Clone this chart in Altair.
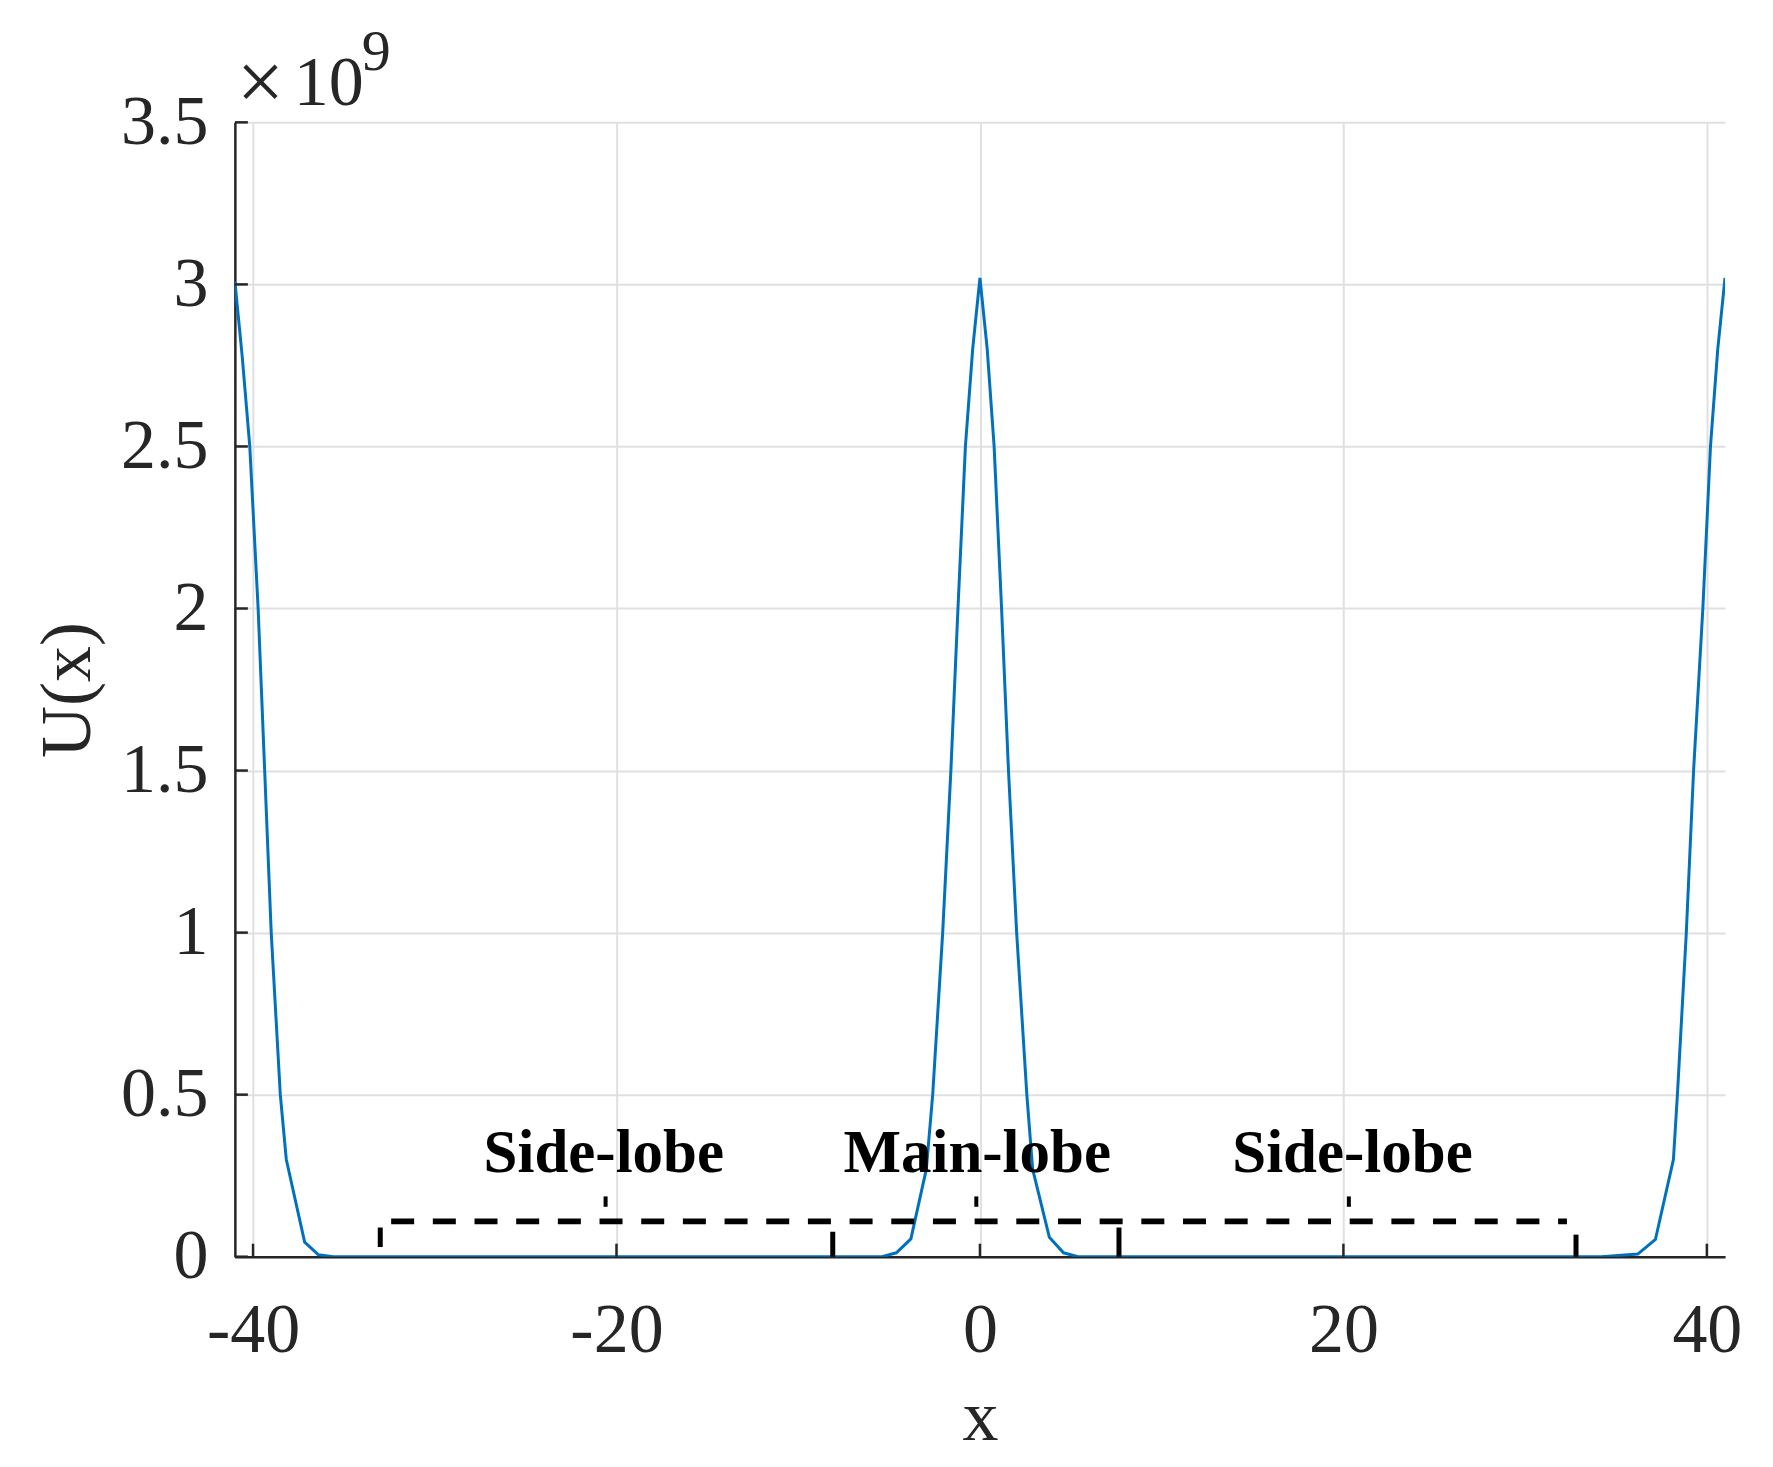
import altair as alt
import pandas as pd

# ---- data (U in units of 1e9) ----
lobe_left_x = [-41.0, -40.6, -40.18, -39.72, -39.36, -39.0, -38.5, -38.17, -37.16, -36.4, -35.6]
lobe_left_u = [3.01, 2.78, 2.5, 2.0, 1.5, 1.0, 0.5, 0.30, 0.045, 0.006, 0.0]
lobe_main_x = [-5.4, -4.6, -3.8, -2.95, -2.6, -2.05, -1.6, -1.21, -0.8, -0.4, 0.0,
               0.4, 0.78, 1.19, 1.57, 2.02, 2.58, 2.9, 3.82, 4.6, 5.4]
lobe_main_u = [0.0, 0.012, 0.055, 0.27, 0.5, 1.0, 1.5, 2.0, 2.5, 2.8, 3.02,
               2.8, 2.5, 2.0, 1.5, 1.0, 0.5, 0.27, 0.06, 0.012, 0.0]
lobe_right_x = [34.2, 36.2, 37.17, 38.16, 38.38, 38.87, 39.27, 39.78, 40.2, 40.6, 41.0]
lobe_right_u = [0.0, 0.008, 0.053, 0.30, 0.5, 1.0, 1.5, 2.0, 2.5, 2.8, 3.02]

x_ticks = [-40, -20, 0, 20, 40]
y_ticks = [0, 0.5, 1, 1.5, 2, 2.5, 3, 3.5]

region_labels = ["Side-lobe", "Main-lobe", "Side-lobe"]
label_x = [-20.7, -0.15, 20.5]
label_y = [0.26, 0.26, 0.26]

bracket_x = [-33.0, -8.1, 7.65, 32.8]
bracket_lo = [0.03, 0.0, 0.0, 0.0]
bracket_hi = [0.09, 0.077, 0.09, 0.068]
center_tick_x = [-20.6, -0.2, 20.3]
center_tick_lo = [0.154, 0.154, 0.154]
center_tick_hi = [0.186, 0.186, 0.186]
dash_start, dash_end, dash_level = -32.4, 32.3, 0.109

W, H = 1491, 1135
FONT = "Liberation Serif"
AX = "#262626"

curve = pd.DataFrame({
    "x": lobe_left_x + lobe_main_x + lobe_right_x,
    "u": lobe_left_u + lobe_main_u + lobe_right_u,
})

xscale = alt.Scale(domain=[-41, 41], nice=False, zero=False)
yscale = alt.Scale(domain=[0, 3.5], nice=False)
xaxis = alt.Axis(values=x_ticks, title="x", grid=True, ticks=False, labelFlush=False,
                 labelExpr="datum.value + ''", labelPadding=40, titlePadding=17)
yaxis = alt.Axis(values=y_ticks, title="U(x)", grid=True, ticks=False, labelFlush=False,
                 labelExpr="datum.value + ''", labelPadding=27, titlePadding=16)


def X(f):
    return alt.X(f, scale=xscale, axis=xaxis)


def Y(f):
    return alt.Y(f, scale=yscale, axis=yaxis)


line = alt.Chart(curve).mark_line(color="#0072BD", strokeWidth=3, clip=True).encode(
    x=X("x:Q"), y=Y("u:Q"))

xt = alt.Chart(pd.DataFrame({"x": x_ticks})).mark_rule(color=AX, strokeWidth=2.5).encode(
    x=X("x:Q"), y=alt.value(H), y2=alt.value(H - 13))
yt = alt.Chart(pd.DataFrame({"u": y_ticks})).mark_rule(color=AX, strokeWidth=2.5).encode(
    y=Y("u:Q"), x=alt.value(0), x2=alt.value(13))

dash = alt.Chart(pd.DataFrame({"x": [dash_start], "b": [dash_end], "u": [dash_level]})).mark_rule(
    color="black", strokeWidth=6, strokeDash=[23, 18.7]).encode(
    x=X("x:Q"), x2="b:Q", y=Y("u:Q"))

brackets = alt.Chart(pd.DataFrame({"x": bracket_x, "u": bracket_lo, "hi": bracket_hi})).mark_rule(
    color="black", strokeWidth=5).encode(x=X("x:Q"), y=Y("u:Q"), y2="hi:Q")

cticks = alt.Chart(pd.DataFrame({"x": center_tick_x, "u": center_tick_lo, "hi": center_tick_hi})).mark_rule(
    color="black", strokeWidth=4).encode(x=X("x:Q"), y=Y("u:Q"), y2="hi:Q")

labels = alt.Chart(pd.DataFrame({"x": label_x, "u": label_y, "t": region_labels})).mark_text(
    font=FONT, fontWeight="bold", fontSize=61, baseline="alphabetic", align="center", color="black").encode(
    x=X("x:Q"), y=Y("u:Q"), text="t:N")

times = alt.Chart(pd.DataFrame({"t": ["\u00d7"]})).mark_text(
    font=FONT, fontSize=84, align="left", baseline="alphabetic", color=AX).encode(
    x=alt.value(2), y=alt.value(-12), text="t:N")
ten = alt.Chart(pd.DataFrame({"t": ["10"]})).mark_text(
    font=FONT, fontSize=70, align="left", baseline="alphabetic", color=AX).encode(
    x=alt.value(59), y=alt.value(-17), text="t:N")
nine = alt.Chart(pd.DataFrame({"t": ["9"]})).mark_text(
    font=FONT, fontSize=58, align="left", baseline="alphabetic", color=AX).encode(
    x=alt.value(127), y=alt.value(-52), text="t:N")

chart = alt.layer(line, xt, yt, dash, brackets, cticks, labels, times, ten, nine).properties(
    width=W, height=H,
    autosize=alt.AutoSizeParams(type="none"),
    padding={"left": 227, "top": 114, "right": 40, "bottom": 205},
    background="white",
).configure_view(strokeWidth=0).configure_axis(
    gridColor="#e0e0e0", gridWidth=2, domainColor=AX, domainWidth=2.5,
    labelFont=FONT, labelFontSize=70, labelColor=AX,
    titleFont=FONT, titleFontSize=72, titleFontWeight="normal", titleColor=AX,
    labelOverlap=False,
)

chart.save("out.html", embed_options={"renderer": "svg", "actions": False})
